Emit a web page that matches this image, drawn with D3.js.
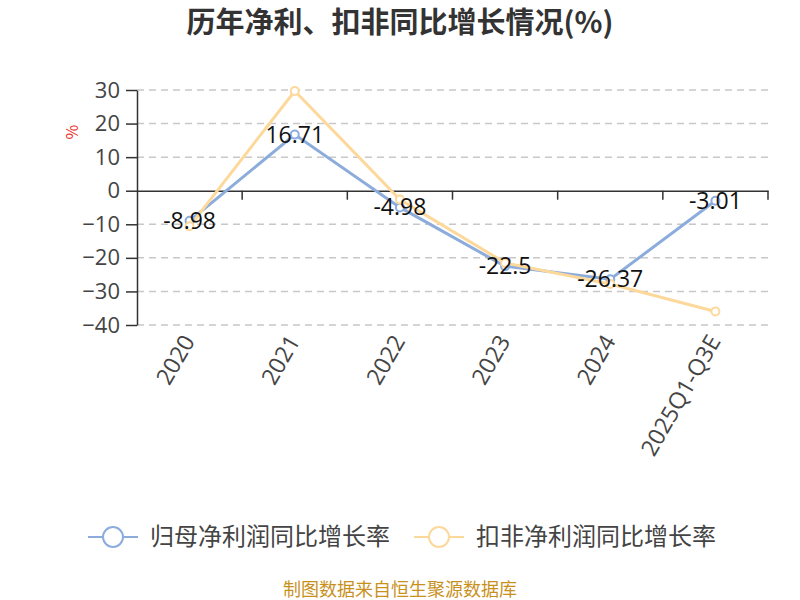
<!DOCTYPE html>
<html><head><meta charset="utf-8">
<script src="https://cdn.jsdelivr.net/npm/d3@7"></script>
<style>body{margin:0;background:#fff;}svg{display:block;font-family:"Noto Sans CJK SC","Noto Sans",sans-serif;}</style>
</head><body>
<svg id="c" width="800" height="600"></svg>
<script>
const categories = ["2020","2021","2022","2023","2024","2025Q1-Q3E"];
const netProfitGrowth = [-8.98, 16.71, -4.98, -22.5, -26.37, -3.01];
const deductedGrowth = [-10.6, 29.7, -2.6, -21.5, -27.8, -36.0];
const yTicks = [30,20,10,0,-10,-20,-30,-40];
const seriesNames = ["归母净利润同比增长率","扣非净利润同比增长率"];
const colors = ["#8cacdc","#fdd89b"];

const svg = d3.select("#c");
const pLeft = 137, pRight = 768, pTop = 90, pBottom = 325;
const x = d3.scaleBand().domain(categories).range([pLeft, pRight]);
const y = d3.scaleLinear().domain([-40, 30]).range([pBottom, pTop]);
const numFont = "'Open Sans','Noto Sans',sans-serif";

svg.append("text").attr("x", 400).attr("y", 33).attr("text-anchor","middle")
  .attr("font-size", 29).attr("font-weight","bold").attr("fill","#333")
  .text("历年净利、扣非同比增长情况(%)");

// grid
svg.append("g").selectAll("line").data(yTicks.filter(d=>d!==0)).join("line")
  .attr("x1", pLeft).attr("x2", pRight).attr("y1", d=>y(d)).attr("y2", d=>y(d))
  .attr("stroke","#c8c8c8").attr("stroke-dasharray","7,5").attr("stroke-width",1.5);

// y axis
const ya = svg.append("g").attr("transform",`translate(${pLeft},0)`)
  .call(d3.axisLeft(y).tickValues(yTicks).tickSize(11).tickSizeOuter(0).tickPadding(6));
ya.select(".domain").attr("stroke","#333").attr("stroke-width",1.5);
ya.selectAll(".tick line").attr("stroke","#333").attr("stroke-width",1.5);
ya.selectAll(".tick text").attr("font-size",22).attr("fill","#444").attr("font-family",numFont);

// x axis at zero
const xa = svg.append("g").attr("transform",`translate(0,${y(0)})`)
  .call(d3.axisBottom(x).tickSize(0).tickFormat(""));
xa.select(".domain").attr("stroke","#333").attr("stroke-width",1.5);
svg.append("g").selectAll("line").data(categories).join("line")
  .attr("x1", d=>x(d)+x.bandwidth()).attr("x2", d=>x(d)+x.bandwidth())
  .attr("y1", y(0)).attr("y2", y(0)+9).attr("stroke","#333").attr("stroke-width",1.5);

// x labels
svg.append("g").selectAll("text").data(categories).join("text")
  .attr("transform", d=>`translate(${x(d)+x.bandwidth()/2-1},${pBottom+12}) rotate(-60)`)
  .attr("text-anchor","end").attr("dy","0.35em")
  .attr("font-size",23).attr("fill","#444").attr("font-family",numFont)
  .text(d=>d);

// unit label
svg.append("text").attr("transform","translate(78,132) rotate(-90)")
  .attr("text-anchor","middle").attr("font-size",16).attr("fill","#e8302a").text("%");

const cx = d => x(d) + x.bandwidth()/2;
const line = d3.line().x(d=>cx(d.c)).y(d=>y(d.v));
[netProfitGrowth, deductedGrowth].forEach((vals,i)=>{
  const data = categories.map((c,j)=>({c, v: vals[j]}));
  svg.append("path").datum(data).attr("d", line).attr("fill","none")
    .attr("stroke", colors[i]).attr("stroke-width",3);
});
[netProfitGrowth, deductedGrowth].forEach((vals,i)=>{
  const data = categories.map((c,j)=>({c, v: vals[j]}));
  svg.append("g").selectAll("circle").data(data).join("circle")
    .attr("cx", d=>cx(d.c)).attr("cy", d=>y(d.v)).attr("r",4)
    .attr("fill","#fff").attr("stroke",colors[i]).attr("stroke-width",2);
});

// data labels for first series
svg.append("g").selectAll("text").data(categories.map((c,j)=>({c, v: netProfitGrowth[j]}))).join("text")
  .attr("x", d=>cx(d.c)).attr("y", d=>y(d.v)).attr("dy","0.35em")
  .attr("text-anchor","middle").attr("font-size",23).attr("fill","#111")
  .attr("font-family",numFont)
  .text(d=>d.v);

// legend
const lg = [{x:88, tx:150},{x:414, tx:476}];
seriesNames.forEach((n,i)=>{
  const g = svg.append("g");
  g.append("line").attr("x1", lg[i].x).attr("x2", lg[i].x+50).attr("y1",537).attr("y2",537)
    .attr("stroke", colors[i]).attr("stroke-width",2);
  g.append("circle").attr("cx", lg[i].x+25).attr("cy",537).attr("r",10)
    .attr("fill","#fff").attr("stroke",colors[i]).attr("stroke-width",2);
  g.append("text").attr("x", lg[i].tx).attr("y",537).attr("dy","0.35em")
    .attr("font-size",24).attr("fill","#444").text(n);
});

svg.append("text").attr("x",400).attr("y",596).attr("text-anchor","middle")
  .attr("font-size",18).attr("fill","#c8911e").text("制图数据来自恒生聚源数据库");
</script>
</body></html>
